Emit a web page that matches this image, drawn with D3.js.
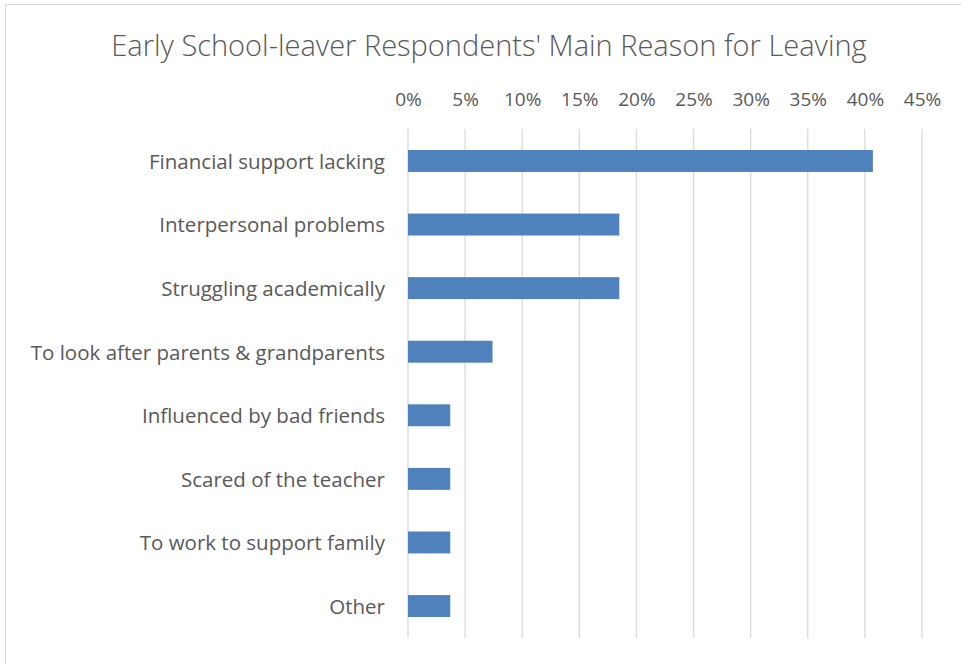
<!DOCTYPE html>
<html>
<head>
<meta charset="utf-8">
<script src="https://cdn.jsdelivr.net/npm/d3@7"></script>
<style>
  html, body { margin: 0; padding: 0; background: #fff; }
  svg { display: block; }
  text { font-family: "Open Sans", Lato, sans-serif; fill: #595959; }
</style>
</head>
<body>
<script>
// Main reason for leaving school early, share of respondents
const reasons = [
  "Financial support lacking",
  "Interpersonal problems",
  "Struggling academically",
  "To look after parents & grandparents",
  "Influenced by bad friends",
  "Scared of the teacher",
  "To work to support family",
  "Other"
];
const shares = [0.407, 0.185, 0.185, 0.074, 0.037, 0.037, 0.037, 0.037];
const tickValues = [0, 0.05, 0.10, 0.15, 0.20, 0.25, 0.30, 0.35, 0.40, 0.45];
const title = "Early School-leaver Respondents' Main Reason for Leaving";

const W = 961, H = 664;
const margin = { top: 129, right: 39, bottom: 26, left: 408 };
const FONT = "'Open Sans', Lato, sans-serif";

const svg = d3.select("body").append("svg").attr("width", W).attr("height", H);

// chart frame
svg.append("rect")
  .attr("x", 5.5).attr("y", 4.5)
  .attr("width", W + 20).attr("height", H + 20)
  .attr("fill", "#fff").attr("stroke", "#d9d9d9").attr("stroke-width", 1);

svg.append("text")
  .attr("x", 489).attr("y", 56)
  .attr("text-anchor", "middle")
  .style("font-size", "29px").style("font-weight", 300)
  .text(title);

const x = d3.scaleLinear().domain([0, 0.45]).range([margin.left, W - margin.right]);
const y = d3.scaleBand().domain(reasons)
  .range([margin.top, H - margin.bottom]).paddingInner(0.655).paddingOuter(0.33);

// vertical gridlines
svg.append("g").selectAll("line").data(tickValues).join("line")
  .attr("x1", d => x(d)).attr("x2", d => x(d))
  .attr("y1", margin.top).attr("y2", H - margin.bottom)
  .attr("stroke", "#d9d9d9").attr("stroke-width", 1.3);

// top percentage axis
const xAxis = svg.append("g")
  .attr("transform", `translate(0,109)`)
  .call(d3.axisTop(x).tickValues(tickValues).tickFormat(d3.format(".0%")).tickSize(0));
xAxis.select(".domain").remove();
xAxis.selectAll("text").style("font-size", "19px").style("fill", "#595959")
  .style("font-family", FONT);

// bars
svg.append("g").selectAll("rect").data(shares).join("rect")
  .attr("x", x(0))
  .attr("y", (d, i) => y(reasons[i]))
  .attr("width", d => x(d) - x(0))
  .attr("height", y.bandwidth())
  .attr("fill", "#4f81bd");

// category labels
const yAxis = svg.append("g")
  .attr("transform", `translate(${margin.left - 20},0)`)
  .call(d3.axisLeft(y).tickSize(0));
yAxis.select(".domain").remove();
yAxis.selectAll("text").style("font-size", "20.5px").style("fill", "#595959")
  .style("font-family", FONT)
  .attr("dy", "0.38em")
  .attr("text-anchor", "end");
</script>
</body>
</html>
